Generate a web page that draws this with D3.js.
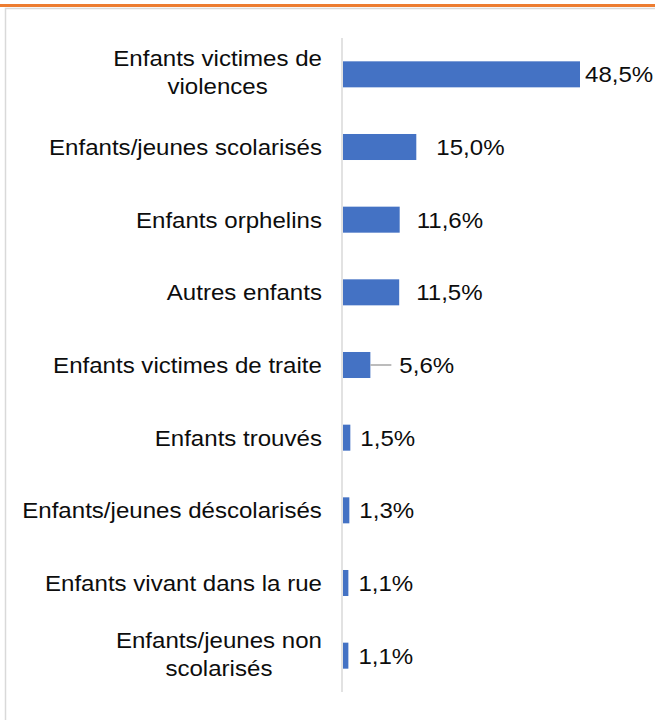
<!DOCTYPE html>
<html>
<head>
<meta charset="utf-8">
<script src="https://cdn.jsdelivr.net/npm/d3@7"></script>
<style>
  body { margin: 0; background: #fff; }
  text { font-family: "Liberation Sans", Arial, sans-serif; fill: #0d0d0d; }
</style>
</head>
<body>
<div id="chart"></div>
<script>
// categories, top to bottom (a category can have two lines)
const categories = [
  ["Enfants victimes de", "violences"],
  ["Enfants/jeunes scolarisés"],
  ["Enfants orphelins"],
  ["Autres enfants"],
  ["Enfants victimes de traite"],
  ["Enfants trouvés"],
  ["Enfants/jeunes déscolarisés"],
  ["Enfants vivant dans la rue"],
  ["Enfants/jeunes non", "scolarisés"]
];
const values = [48.5, 15.0, 11.6, 11.5, 5.6, 1.5, 1.3, 1.1, 1.1];
const valueLabels = ["48,5%", "15,0%", "11,6%", "11,5%", "5,6%", "1,5%", "1,3%", "1,1%", "1,1%"];

const W = 655, H = 720;
const fontSize = 21.5, stretch = 1.12;   // the picture text is a bit wide

// data labels that were dragged away from the bar end in the original
const labelNudge = [-5, 10, 7, 7, 19, 0, 0, 0, 0];

const svg = d3.select("#chart").append("svg")
  .attr("width", W)
  .attr("height", H);

// orange rule and frame
svg.append("rect")
  .attr("x", 0).attr("y", 4)
  .attr("width", W).attr("height", 3)
  .attr("fill", "#ED7D31");

svg.append("rect")
  .attr("x", 5.5).attr("y", 8.5)
  .attr("width", W + 10).attr("height", H)
  .attr("fill", "#fff")
  .attr("stroke", "#d9d9d9")
  .attr("stroke-width", 1.5);

const ids = d3.range(categories.length);

const y = d3.scaleBand()
  .domain(ids)
  .range([38, 692])
  .paddingInner(0.642)
  .paddingOuter(0.321);

const x = d3.scaleLinear()
  .domain([0, d3.max(values)])
  .range([343, 580]);

// bars
svg.selectAll("rect.bar")
  .data(values)
  .enter().append("rect")
  .attr("class", "bar")
  .attr("x", x(0))
  .attr("y", (d, i) => y(i))
  .attr("width", d => x(d) - x(0))
  .attr("height", y.bandwidth())
  .attr("fill", "#4472C4");

// vertical axis line
svg.append("line")
  .attr("x1", x(0) - 1).attr("x2", x(0) - 1)
  .attr("y1", y.range()[0]).attr("y2", y.range()[1])
  .attr("stroke", "#d9d9d9")
  .attr("stroke-width", 1.5);

// category labels, centred block whose right edge sits left of the axis
const labelRight = x(0) - 21;
ids.forEach(i => {
  const lines = categories[i];
  const cy = y(i) + y.bandwidth() / 2;
  const g = svg.append("g");
  const texts = lines.map((t, k) => {
    const base = lines.length === 1 ? cy + 8 : cy - 8 + k * 28;
    return g.append("text")
      .attr("font-size", fontSize)
      .attr("text-anchor", "middle")
      .attr("data-y", base)
      .text(t);
  });
  const maxW = d3.max(texts, t => t.node().getComputedTextLength()) * stretch;
  const cx = labelRight - maxW / 2;
  texts.forEach(t => {
    t.attr("transform", `translate(${cx},${t.attr("data-y")}) scale(${stretch},1)`);
  });
});

// value labels
values.forEach((v, i) => {
  const cy = y(i) + y.bandwidth() / 2;
  const lx = x(v) + 10 + labelNudge[i];
  if (labelNudge[i] > 15) {
    svg.append("line")
      .attr("x1", x(v)).attr("x2", lx - 8)
      .attr("y1", cy).attr("y2", cy)
      .attr("stroke", "#a6a6a6")
      .attr("stroke-width", 1.5);
  }
  svg.append("text")
    .attr("font-size", fontSize)
    .attr("transform", `translate(${lx},${cy + 8}) scale(${stretch},1)`)
    .text(valueLabels[i]);
});
</script>
</body>
</html>
